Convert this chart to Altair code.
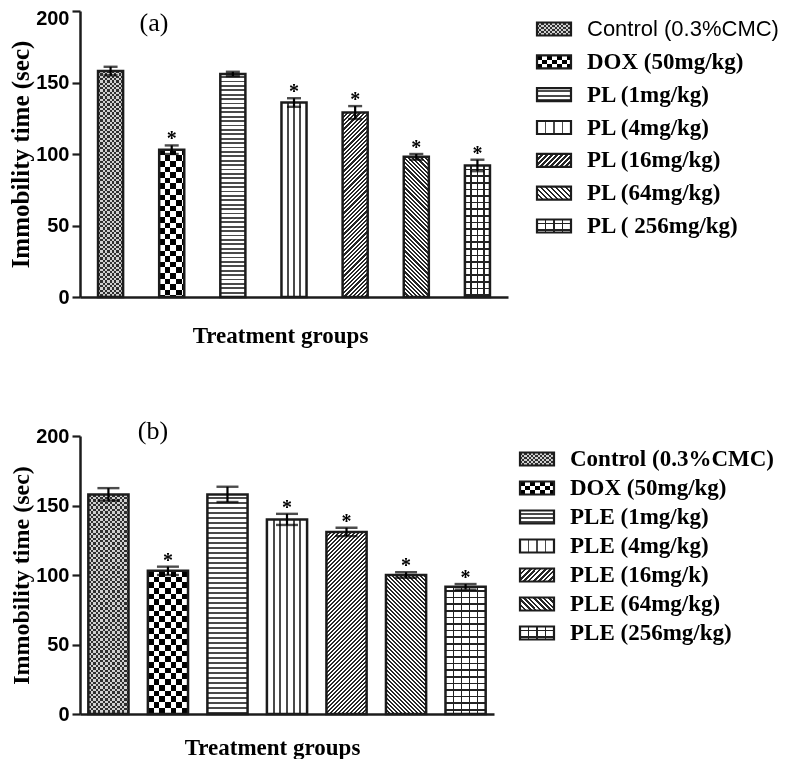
import altair as alt
import pandas as pd

# ---------------- data ----------------
groups_a = ["Control (0.3%CMC)", "DOX (50mg/kg)", "PL (1mg/kg)", "PL (4mg/kg)",
            "PL (16mg/kg)", "PL (64mg/kg)", "PL ( 256mg/kg)"]
groups_b = ["Control (0.3%CMC)", "DOX (50mg/kg)", "PLE (1mg/kg)", "PLE (4mg/kg)",
            "PLE (16mg/k)", "PLE (64mg/kg)", "PLE (256mg/kg)"]
means_a = [158, 103, 156, 136, 129, 98, 92]
sem_a = [3, 3, 1.5, 3, 4.5, 2, 4]
means_b = [158, 103, 158, 140, 131, 100, 91.5]
sem_b = [4.5, 3, 5.5, 4, 3, 2, 2]
significant = [False, True, False, True, True, True, True]
patterns = ["fine_checker", "checker", "hlines", "vlines", "diag_up", "diag_down", "grid"]
y_ticks = [0, 50, 100, 150, 200]
Y_MAX = 200

SERIF = "Liberation Serif"
SANS = "Liberation Sans"
INK = "#1c1c1c"


# ---------------- pattern helpers (gradient stripes) ----------------
def stripes(length, period, line, c_line, c_bg, start=0.0):
    offs = [(0.0, c_bg)]
    a = start
    while a < length:
        b = min(a + line, length)
        offs += [(a / length, c_bg), (a / length, c_line), (b / length, c_line), (b / length, c_bg)]
        a += period
    offs.append((1.0, c_bg))
    return [{"offset": round(max(0.0, min(1.0, o)), 5), "color": c} for o, c in offs]


def lin(stops, x1, y1, x2, y2):
    return {"gradient": "linear", "stops": stops,
            "x1": round(x1, 5), "y1": round(y1, 5), "x2": round(x2, 5), "y2": round(y2, 5)}


def pattern_fills(key, w, h, cfg):
    if key == "fine_checker":
        c = cfg["fine"]
        return [(lin(stripes(h, 2 * c, c, "#2e2e2e", "#cfcfcf"), 0, 0, 0, 1), None),
                (lin(stripes(w, 2 * c, c, "#000000", "#ffffff"), 0, 0, 1, 0), "difference")]
    if key == "checker":
        cw, ch = cfg["cell_w"], cfg["cell_h"]
        return [(lin(stripes(h, 2 * ch, ch, "#000000", "#ffffff"), 0, 0, 0, 1), None),
                (lin(stripes(w, 2 * cw, cw, "#000000", "#ffffff"), 0, 0, 1, 0), "difference")]
    if key == "hlines":
        p = cfg["hper"]
        return [(lin(stripes(h, p, 1.9, "#4a4a4a", "#ffffff", p * 0.5), 0, 0, 0, 1), None)]
    if key == "vlines":
        p = w / cfg["vcols"]
        return [(lin(stripes(w, p, 1.9, "#4a4a4a", "#ffffff", p - 0.95), 0, 0, 1, 0), None)]
    if key in ("diag_up", "diag_down"):
        k = (w + h) / (w * w + h * h)
        st = stripes(w + h, cfg["dper"], cfg["dper"] * 0.5, "#262626", "#ffffff")
        if key == "diag_up":
            return [(lin(st, 0, 0, k * w, k * h), None)]
        return [(lin(st, 0, 1, k * w, 1 - k * h), None)]
    if key == "grid":
        p = w / cfg["gcols"]
        return [(lin(stripes(h, cfg["gper"], 1.7, "#222222", "#ffffff", cfg["gper"] * 0.5), 0, 0, 0, 1), None),
                (lin(stripes(w, p, 1.7, "#222222", "rgba(255,255,255,0)", p - 0.85), 0, 0, 1, 0), None)]
    return []


def mark_kw(fill, blend):
    kw = {"fill": fill, "strokeWidth": 0}
    if blend:
        kw["blend"] = blend
    return kw


# ---------------- one bar panel ----------------
def bar_panel(groups, means, sems, tag, W, H, p_in, p_out, cfg, tag_xy, label_cond,
              ytitle_size, xtitle_pad, xtitle_x, cap):
    df = pd.DataFrame({"group": groups, "mean": means, "sem": sems, "sig": significant})
    step = W / (len(groups) - p_in + 2 * p_out)
    bw = step * (1 - p_in)

    xaxis = alt.Axis(labels=False, ticks=False, title="Treatment groups", grid=False,
                     titleFont=SERIF, titleFontSize=23, titleFontWeight="bold", titleColor="black",
                     titlePadding=xtitle_pad, titleX=xtitle_x, titleBaseline="top",
                     domainColor=INK, domainWidth=2.5)
    ykw = dict(values=y_ticks, title="Immobility time (sec)", grid=False,
               titleFont=SERIF, titleFontSize=ytitle_size, titleFontWeight="bold", titleColor="black",
               titlePadding=2, labelFont=SANS, labelFontSize=20, labelFontWeight="bold",
               labelColor="black", labelPadding=3, tickSize=8, tickWidth=2.2, tickColor=INK,
               domainColor=INK, domainWidth=2.5)
    if label_cond:
        ykw["labelOffset"] = {"condition": {"test": "datum.value === 200", "value": 7}, "value": 0}
    yaxis = alt.Axis(**ykw)
    xscale = alt.Scale(domain=groups, paddingInner=p_in, paddingOuter=p_out)
    yscale = alt.Scale(domain=[0, Y_MAX], nice=False)
    xenc = alt.X("group:N", sort=groups, scale=xscale, axis=xaxis)

    base = alt.Chart(df)
    layers = []
    for g, m, key in zip(groups, means, patterns):
        hpx = m / Y_MAX * H
        for fill, blend in pattern_fills(key, bw, hpx, cfg):
            layers.append(
                base.transform_filter(alt.FieldEqualPredicate(field="group", equal=g))
                .mark_bar(**mark_kw(fill, blend))
                .encode(x=xenc, y=alt.Y("mean:Q", scale=yscale, axis=yaxis))
            )
    layers.append(base.mark_bar(fillOpacity=0, stroke=INK, strokeWidth=2.5)
                  .encode(x=xenc, y=alt.Y("mean:Q", scale=yscale, axis=yaxis)))
    eb = base.transform_calculate(lo="datum.mean - datum.sem", hi="datum.mean + datum.sem")
    layers.append(eb.mark_rule(color="black", strokeWidth=2.2)
                  .encode(x=xenc, y=alt.Y("lo:Q", scale=yscale, axis=yaxis), y2="hi:Q"))
    layers.append(eb.mark_tick(color="black", thickness=2.4, size=cap)
                  .encode(x=xenc, y=alt.Y("hi:Q", scale=yscale, axis=yaxis)))
    layers.append(eb.mark_tick(color="black", thickness=2.4, size=cap)
                  .encode(x=xenc, y=alt.Y("lo:Q", scale=yscale, axis=yaxis)))
    layers.append(eb.transform_filter(alt.datum.sig)
                  .mark_text(text="*", font=SERIF, fontSize=20, fontWeight="bold",
                             baseline="alphabetic", dy=0, color="black")
                  .encode(x=xenc, y=alt.Y("hi:Q", scale=yscale, axis=yaxis)))
    layers.append(alt.Chart(pd.DataFrame({"t": [tag]}))
                  .mark_text(font=SERIF, fontSize=26, color="black", baseline="middle", align="center")
                  .encode(text="t:N", x=alt.value(tag_xy[0]), y=alt.value(tag_xy[1])))
    return alt.layer(*layers).properties(width=W, height=H)


# ---------------- one legend ----------------
def legend_panel(groups, H, y_rng, sx, tx, sans_first, cfg):
    df = pd.DataFrame({"group": groups})
    ysc = alt.Scale(type="point", domain=groups, range=y_rng, padding=0)
    yenc = alt.Y("group:N", sort=groups, scale=ysc, axis=None)
    sw, sh = 34, 13
    layers = []
    for g, key in zip(groups, patterns):
        for fill, blend in pattern_fills(key, sw, sh, cfg):
            kw = mark_kw(fill, blend)
            layers.append(
                alt.Chart(df).transform_filter(alt.FieldEqualPredicate(field="group", equal=g))
                .mark_rect(yOffset=-sh / 2, y2Offset=sh / 2, **kw)
                .encode(y=yenc, y2=alt.Y2("group"), x=alt.value(sx), x2=alt.value(sx + sw))
            )
    layers.append(alt.Chart(df).mark_rect(yOffset=-sh / 2, y2Offset=sh / 2, fillOpacity=0,
                                          stroke=INK, strokeWidth=2.2)
                  .encode(y=yenc, y2=alt.Y2("group"), x=alt.value(sx), x2=alt.value(sx + sw)))
    if sans_first:
        layers.append(alt.Chart(df).transform_filter(alt.FieldEqualPredicate(field="group", equal=groups[0]))
                      .mark_text(align="left", baseline="middle", font=SANS, fontSize=22, color="black")
                      .encode(x=alt.value(tx), y=yenc, text="group:N"))
        rest = alt.Chart(df).transform_filter(
            alt.FieldOneOfPredicate(field="group", oneOf=groups[1:]))
    else:
        rest = alt.Chart(df)
    layers.append(rest.mark_text(align="left", baseline="middle", font=SERIF, fontSize=23,
                                 fontWeight="bold", color="black")
                  .encode(x=alt.value(tx), y=yenc, text="group:N"))
    return alt.layer(*layers).properties(width=245, height=H)


cfg_a = {"fine": 2.3, "cell_w": 5.6, "cell_h": 5.6, "hper": 4.4, "vcols": 4, "dper": 4.2,
         "gcols": 4, "gper": 6.6}
cfg_b = {"fine": 2.4, "cell_w": 5.7, "cell_h": 5.7, "hper": 5.0, "vcols": 6, "dper": 4.0,
         "gcols": 5, "gper": 6.6}
cfg_leg = {"fine": 2.2, "cell_w": 5.0, "cell_h": 4.3, "hper": 4.3, "vcols": 4, "dper": 5.0,
           "gcols": 4, "gper": 6.5}

H_A, H_B = 286, 278
bars_a = bar_panel(groups_a, means_a, sem_a, "(a)", 428, H_A, 0.59, 0.295, cfg_a, (74, 12), True,
                   25, 27, 200, 14)
bars_b = bar_panel(groups_b, means_b, sem_b, "(b)", 414, H_B, 0.325, 0.14, cfg_b, (73, -5), False,
                   24, 22, 192, 22)
leg_a = legend_panel(groups_a, H_A, [18, 215], 1, 51, True, cfg_leg)
leg_b = legend_panel(groups_b, H_B, [23, 197], -16, 34, False, cfg_leg)

chart = alt.concat(bars_a, leg_a, bars_b, leg_b, columns=2, bounds="flush",
                   spacing={"row": 139, "column": 28}).properties(
    padding={"left": 0, "top": 0, "right": 0, "bottom": 0},
    background="white",
).configure_view(stroke=None)

chart.save("out.html", embed_options={"renderer": "svg", "actions": False})
